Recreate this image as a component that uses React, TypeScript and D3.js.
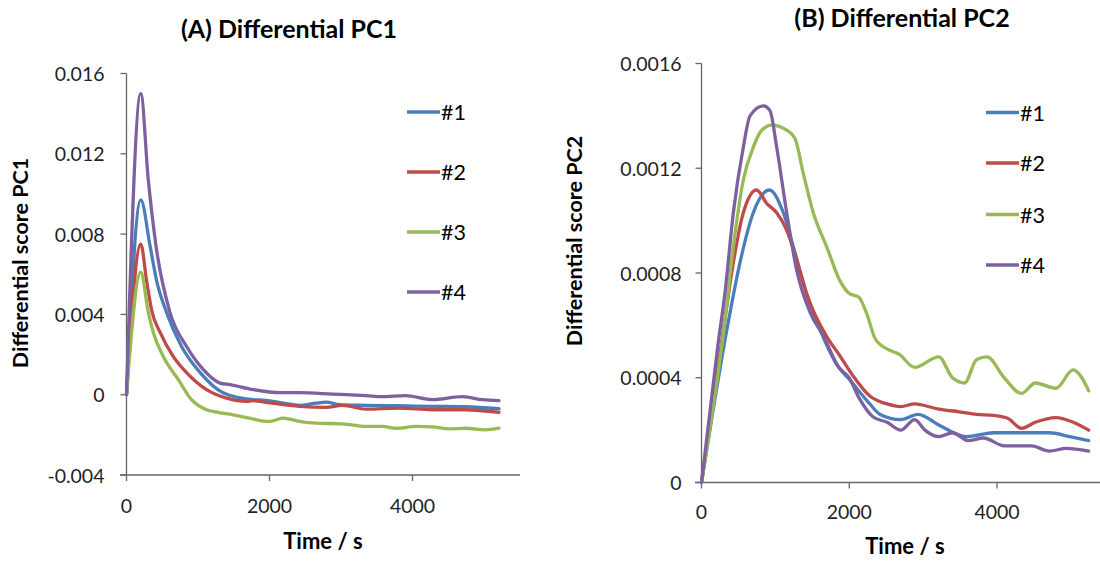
import React from "react";
import * as d3 from "d3";

type Pt = [number, number];

const seriesNames = ["#1", "#2", "#3", "#4"];
const seriesColors = ["#4A7EBB", "#BE4B48", "#98B954", "#7D60A0"];
const xTicks = [0, 2000, 4000];
const xTickLabels = ["0", "2000", "4000"];

// ---- Panel A: Differential PC1 ----
const pc1Series1: Pt[] = [[0,0],[200,0.0097],[330,0.0074],[420,0.0057],[560,0.0041],[770,0.0024],[1030,0.0011],[1350,0.0001],[1770,-0.00025],[1950,-0.00028],[2190,-0.00042],[2420,-0.00053],[2650,-0.00042],[2790,-0.00037],[2980,-0.0005],[3350,-0.00053],[3810,-0.00055],[4280,-0.00058],[4740,-0.0006],[5210,-0.0007]];
const pc1Series2: Pt[] = [[0,0],[200,0.0075],[280,0.0057],[352,0.0042],[470,0.0031],[655,0.0019],[840,0.0011],[1120,0.00025],[1400,-0.00017],[1680,-0.00033],[1770,-0.0003],[1950,-0.00038],[2420,-0.00058],[2790,-0.00063],[3020,-0.00053],[3350,-0.00072],[3810,-0.00067],[4280,-0.00075],[4740,-0.00075],[5210,-0.00088]];
const pc1Series3: Pt[] = [[0,0],[200,0.0061],[305,0.0041],[375,0.0031],[515,0.0019],[725,0.00075],[910,-0.00025],[1120,-0.00075],[1260,-0.00087],[1490,-0.001],[1720,-0.00117],[1950,-0.00133],[2050,-0.0013],[2190,-0.00117],[2420,-0.00133],[2650,-0.00142],[3020,-0.00145],[3350,-0.00158],[3580,-0.00158],[3770,-0.00167],[4050,-0.00158],[4280,-0.0016],[4510,-0.0017],[4740,-0.00167],[5020,-0.00175],[5210,-0.00167]];
const pc1Series4: Pt[] = [[0,0],[200,0.015],[305,0.0107],[413,0.0074],[608,0.0041],[841,0.0024],[1075,0.00125],[1308,0.00058],[1450,0.0005],[1774,0.00025],[2150,0.0001],[2420,0.0001],[2880,0.00003],[3350,-0.00005],[3580,-0.0001],[3900,-0.00005],[4280,-0.00025],[4700,-0.0001],[4980,-0.00025],[5210,-0.0003]];
const pc1YTicks = [-0.004, 0, 0.004, 0.008, 0.012, 0.016];
const pc1YTickLabels = ["-0.004", "0", "0.004", "0.008", "0.012", "0.016"];

// ---- Panel B: Differential PC2 ----
const pc2Series1: Pt[] = [[0,0],[341,0.00058],[521,0.00084],[701,0.00103],[918,0.001117],[1108,0.00103],[1243,0.0009],[1424,0.00072],[1624,0.00057],[1811,0.00046],[2044,0.00038],[2278,0.0003],[2418,0.00026],[2698,0.00024],[2931,0.00026],[3211,0.00022],[3585,0.000175],[3958,0.00019],[4331,0.00019],[4705,0.00019],[4985,0.000175],[5241,0.00016]];
const pc2Series2: Pt[] = [[0,0],[295,0.00058],[431,0.00084],[566,0.00103],[747,0.001117],[882,0.001066],[1018,0.00103],[1153,0.000964],[1289,0.00085],[1424,0.00072],[1695,0.000557],[1858,0.00049],[2044,0.00041],[2278,0.00033],[2511,0.0003],[2698,0.00029],[2884,0.0003],[3211,0.00028],[3491,0.00027],[3725,0.00026],[3958,0.000256],[4145,0.000245],[4331,0.000207],[4518,0.00023],[4798,0.000248],[5031,0.00023],[5241,0.0002]];
const pc2Series3: Pt[] = [[0,0],[318,0.00062],[431,0.0009],[566,0.001155],[701,0.00128],[800,0.00134],[950,0.001365],[1153,0.001346],[1266,0.001314],[1378,0.00118],[1513,0.00103],[1695,0.0009],[1875,0.00077],[2010,0.00072],[2122,0.00071],[2236,0.000646],[2349,0.00055],[2511,0.00051],[2674,0.00049],[2884,0.00044],[3211,0.00048],[3398,0.0004],[3561,0.00038],[3725,0.00047],[3865,0.00048],[4098,0.0004],[4331,0.00034],[4518,0.00038],[4798,0.00036],[5031,0.00043],[5124,0.00041],[5241,0.00035]];
const pc2Series4: Pt[] = [[0,0],[220,0.00052],[320,0.00073],[431,0.00103],[566,0.00128],[657,0.0014],[837,0.001438],[927,0.00142],[1018,0.00128],[1153,0.00103],[1289,0.00081],[1469,0.00065],[1649,0.00056],[1858,0.00044],[1998,0.0004],[2138,0.00032],[2324,0.00025],[2511,0.00023],[2698,0.0002],[2884,0.00024],[3024,0.0002],[3211,0.000175],[3398,0.00019],[3608,0.00016],[3818,0.00017],[4098,0.00014],[4471,0.00014],[4705,0.00012],[4938,0.00013],[5241,0.00012]];
const pc2YTicks = [0, 0.0004, 0.0008, 0.0012, 0.0016];
const pc2YTickLabels = ["0", "0.0004", "0.0008", "0.0012", "0.0016"];

const FONT = "Lato, 'Open Sans', sans-serif";

type PanelProps = {
  title: string;
  titleX: number;
  titleY: number;
  yTitle: string;
  yTitleX: number;
  yTitleY: number;
  xTitleX: number;
  xTitleY: number;
  series: Pt[][];
  yTicks: number[];
  yTickLabels: string[];
  xRange: [number, number];
  yDomain: [number, number];
  yRange: [number, number];
  axisLeft: number;
  axisRight: number;
  xLabelY: number;
  yLabelGap: number;
  legendX: number;
  legendYs: number[];
};

function Panel(p: PanelProps) {
  const x = d3.scaleLinear().domain([0, 4000]).range(p.xRange);
  const y = d3.scaleLinear().domain(p.yDomain).range(p.yRange);
  const line = d3
    .line<Pt>()
    .x((d) => x(d[0]))
    .y((d) => y(d[1]))
    .curve(d3.curveMonotoneX);
  const x0 = x(0);
  const yBase = y(p.yDomain[0]);
  const axisColor = "#666666";
  return (
    <g>
      <text x={p.titleX} y={p.titleY} textAnchor="middle" dominantBaseline="central"
        fontFamily={FONT} fontWeight="bold" fontSize={25} fill="#000">{p.title}</text>
      {/* y axis */}
      <line x1={x0} x2={x0} y1={y(p.yDomain[1])} y2={yBase} stroke={axisColor} strokeWidth={1.3} />
      {p.yTicks.map((t, i) => (
        <g key={"yt" + i}>
          <line x1={x0 - 6} x2={x0} y1={y(t)} y2={y(t)} stroke={axisColor} strokeWidth={1.3} />
          <text x={x0 - p.yLabelGap} y={y(t)} textAnchor="end" dominantBaseline="central"
            fontFamily={FONT} fontSize={19.5} fill="#1f1f1f">{p.yTickLabels[i]}</text>
        </g>
      ))}
      {/* x axis */}
      <line x1={p.axisLeft} x2={p.axisRight} y1={yBase} y2={yBase} stroke={axisColor} strokeWidth={1.3} />
      {xTicks.map((t, i) => (
        <g key={"xt" + i}>
          <line x1={x(t)} x2={x(t)} y1={yBase} y2={yBase + 6} stroke={axisColor} strokeWidth={1.3} />
          <text x={x(t)} y={p.xLabelY} textAnchor="middle" dominantBaseline="central"
            fontFamily={FONT} fontSize={19.5} fill="#1f1f1f">{xTickLabels[i]}</text>
        </g>
      ))}
      <text x={p.xTitleX} y={p.xTitleY} textAnchor="middle" dominantBaseline="central"
        fontFamily={FONT} fontWeight="bold" fontSize={22} fill="#000">Time / s</text>
      <text transform={`translate(${p.yTitleX},${p.yTitleY}) rotate(-90)`} textAnchor="middle"
        dominantBaseline="central" fontFamily={FONT} fontWeight="bold" fontSize={21.5} fill="#000">{p.yTitle}</text>
      {/* series */}
      {p.series.map((s, i) => (
        <path key={"s" + i} d={line(s) || ""} fill="none" stroke={seriesColors[i]} strokeWidth={3.3}
          strokeLinejoin="round" strokeLinecap="round" />
      ))}
      {/* legend */}
      {seriesNames.map((n, i) => (
        <g key={"lg" + i}>
          <line x1={p.legendX} x2={p.legendX + 33} y1={p.legendYs[i]} y2={p.legendYs[i]}
            stroke={seriesColors[i]} strokeWidth={3.3} />
          <text x={p.legendX + 34} y={p.legendYs[i]} dominantBaseline="central"
            fontFamily={FONT} fontSize={21.5} fill="#000">{n}</text>
        </g>
      ))}
    </g>
  );
}

export default function App() {
  return (
    <svg width={1100} height={561} style={{ position: "absolute", left: 0, top: 0, background: "#fff" }}>
      <rect width={1100} height={561} fill="#fff" />
      <Panel
        title="(A) Differential PC1" titleX={289} titleY={28}
        yTitle="Differential score PC1" yTitleX={20} yTitleY={263}
        xTitleX={323} xTitleY={540}
        series={[pc1Series1, pc1Series2, pc1Series3, pc1Series4]}
        yTicks={pc1YTicks} yTickLabels={pc1YTickLabels}
        xRange={[126.5, 412.5]} yDomain={[-0.004, 0.016]} yRange={[475, 73.5]}
        axisLeft={120} axisRight={520} xLabelY={505} yLabelGap={22}
        legendX={407} legendYs={[112, 172, 232, 292]}
      />
      <Panel
        title="(B) Differential PC2" titleX={902} titleY={17}
        yTitle="Differential score PC2" yTitleX={574} yTitleY={241}
        xTitleX={905} xTitleY={545}
        series={[pc2Series1, pc2Series2, pc2Series3, pc2Series4]}
        yTicks={pc2YTicks} yTickLabels={pc2YTickLabels}
        xRange={[701.5, 997]} yDomain={[0, 0.0016]} yRange={[482.5, 63.5]}
        axisLeft={695} axisRight={1100} xLabelY={511} yLabelGap={20}
        legendX={986} legendYs={[112.5, 163, 214.5, 265]}
      />
    </svg>
  );
}
